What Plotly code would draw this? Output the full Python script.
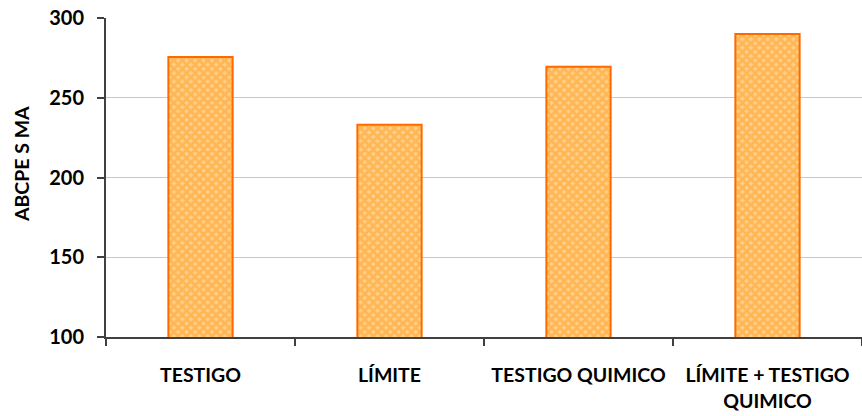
import plotly.graph_objects as go

categories = ["TESTIGO", "LÍMITE", "TESTIGO QUIMICO", "LÍMITE + TESTIGO<br>QUIMICO"]
values = [275.5, 233, 269.5, 290]
y_title = "ABCPE S MA"

fig = go.Figure()
fig.add_trace(go.Bar(
    x=categories, y=values, width=0.34,
    marker=dict(
        color="#FFD08C",
        line=dict(color="#FF6A00", width=2),
        pattern=dict(shape="x", fgcolor="#FF9C1A", bgcolor="#FFD08C", size=6, solidity=0.7),
    ),
))
fig.update_layout(
    width=862, height=416,
    margin=dict(l=106, r=0, t=18, b=79),
    plot_bgcolor="white", paper_bgcolor="white",
    showlegend=False,
    font=dict(family="Lato, Open Sans, sans-serif", color="black"),
)
fig.update_xaxes(
    type="category", range=[-0.5, 3.5],
    showline=True, linecolor="#404040", linewidth=2,
    ticks="outside", tickson="boundaries", ticklen=7, tickcolor="#404040", tickwidth=1.5,
    tickfont=dict(size=19.5, family="Lato", weight="bold"),
    ticklabelstandoff=20,
    showgrid=False,
)
fig.update_yaxes(
    range=[100, 300], tickvals=[100, 150, 200, 250, 300],
    showline=True, linecolor="#404040", linewidth=2,
    ticks="outside", ticklen=7, tickcolor="#404040", tickwidth=1.5,
    tickfont=dict(size=20, family="Lato", weight="bold"),
    ticklabelstandoff=9,
    showgrid=True, gridcolor="#C8C8C8", gridwidth=1,
    zeroline=False,
)
fig.add_annotation(
    text=y_title, textangle=-90, showarrow=False,
    xref="paper", yref="paper", x=0, y=0.542, xanchor="center", yanchor="middle",
    xshift=-85, font=dict(size=19.5, family="Lato", weight="bold"),
)
fig.write_html("out.html")
